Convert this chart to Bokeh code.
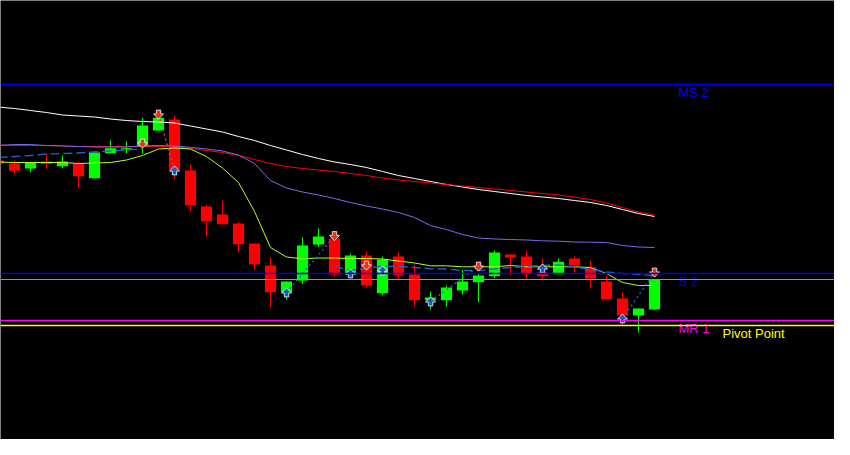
from bokeh.plotting import figure
from bokeh.models import Range1d, ColumnDataSource, Span
from bokeh.embed import file_html
from bokeh.resources import INLINE
from bokeh.core.properties import value

# ---------------- data ----------------
bars = list(range(-1, 41))
opens = [295, 292, 287, 294, 289.3, 291.7, 277.3, 302.3, 306, 309.3, 325, 336, 285, 249, 241, 232,
         212, 190, 163.3, 175, 211, 217, 181, 200, 162.3, 199, 181, 155.3, 155.3, 165, 173.3, 179.3,
         201, 199, 183, 181.3, 197, 188, 174, 157, 140, 146]
highs = [296, 295, 293, 302, 300, 294, 304, 315, 314, 337.7, 340, 340, 291, 251, 255, 233.3,
         212, 198, 174, 218, 227, 219, 202, 204, 199, 203, 191, 164, 170, 185.7, 182, 205,
         201, 205, 197, 197, 199, 195, 180, 163, 147, 176]
lows = [291, 281, 283, 287, 287.3, 267.7, 277, 302, 302.3, 301.7, 324.5, 276.7, 244.3, 219, 231, 203.3,
        185.3, 148.7, 155.7, 171.3, 208.3, 179, 178, 168, 160.3, 176, 149.3, 146, 149, 161, 153.3, 177.3,
        180, 176, 176.3, 181.3, 183, 167, 156, 130, 123, 146]
closes = [292, 285, 293, 291.5, 294, 279.3, 303, 307.3, 307.3, 330, 337.7, 286, 250.3, 234.3, 231.3, 211.3,
          191.3, 163.3, 174, 210, 219, 181, 200, 170, 196, 180, 155.3, 158, 168, 174, 180, 203,
          198, 182.3, 179.3, 193.7, 190, 177, 156, 140, 147, 176]

ma_white = [348.5, 347, 345, 343, 340.5, 339.5, 338.5, 336.5, 335, 334, 333.5, 332.5, 329.5, 326.5,
            323.5, 319, 315, 310, 305.5, 301, 297, 293.5, 291, 288, 284, 280, 277, 274, 271, 268.5,
            266, 264, 262, 260, 258.5, 257, 255, 253, 250, 246, 242, 239]
ma_red = [310.5, 310, 310, 310, 309.5, 309, 309, 309, 309, 309, 309, 308.5, 307, 305, 303, 300, 296,
          292, 289, 287, 285.5, 284, 282, 280, 277.5, 275.5, 274, 272.5, 271, 269.5, 268, 266.5, 265,
          263.5, 262, 260.5, 258.5, 256, 252.5, 248, 243.5, 240.5]
ma_slate = [310, 311, 311, 310, 309.5, 309, 308.5, 308.5, 308.5, 309.5, 310, 309.5, 308.2, 306.5,
            304.5, 300.5, 292, 275, 267.5, 263.5, 260.5, 257, 253, 249.5, 246.5, 243, 238, 230, 226,
            221, 217.5, 216.5, 216, 215.5, 214.7, 214.3, 213.5, 213.3, 213, 210, 208.5, 208]
ma_fast = [293.5, 293, 293, 293, 293, 292, 292.5, 293, 295.5, 300, 306.5, 307.5, 306.5, 299, 287.5,
           273, 244, 208, 198.5, 196.7, 197.5, 197.5, 197, 197, 196.5, 194.5, 192.5, 189.7, 189.7,
           188.7, 188.7, 188.7, 190, 188.7, 188.7, 188.7, 188.7, 188, 182, 173, 170, 170]
nan = float("nan")
dash_line = [298, 299, 300, 301.5, 302, 302.5, 303.5, 304.5, 305.5, 306.5,
             nan, nan, nan, nan, nan, nan, nan, nan, nan, nan, nan,
             189, 185, 187, 189.5, 189, 188, 186.7, 186.5, 185, 185, 186.5, 188, 189, 190, 190.5,
             188.5, 186, 183.5, 182, 181, 180]

down_idx = [8, 9, 20, 22, 29, 40]
down_lev = [312, 341, 219.5, 190, 189, 183]
up_idx = [10, 17, 21, 23, 26, 33, 38]
up_lev = [285, 163, 182, 185, 154, 187, 137]

zz_red = [([9, 10], [341, 285])]
zz_blue = [([17, 20], [163, 219.5]), ([26, 29], [154, 189]), ([38, 40], [137, 183])]

level_names = ["MS 2", "S 2", "MR 1", "Pivot Point"]
level_values = [371, 182, 135, 130]
level_colors = ["#0000ff", "#0000e0", "#ff00ff", "#ffff00"]
bid_price = closes[-1]

# ---------------- figure ----------------
W, H = 834, 439
x0, x1 = -0.875, 51.25
y0, y1 = 16, 455
p = figure(width=W, height=H, x_range=Range1d(x0, x1), y_range=Range1d(y0, y1),
           x_axis_type=None, y_axis_type=None, output_backend="svg", toolbar_location=None,
           background_fill_color="black", border_fill_color="black", min_border=0)
p.outline_line_color = None
p.grid.visible = False

xpp = (x1 - x0) / W   # data units per pixel
ypp = (y1 - y0) / H

# horizontal levels
for v, c in zip(level_values, level_colors):
    p.add_layout(Span(location=v, dimension="width", line_color=c, line_width=1.3))
p.add_layout(Span(location=bid_price, dimension="width", line_color="#8a96a3", line_width=1.2))

# candles
cols = ["#00ff00" if c >= o else "#ff0000" for o, c in zip(opens, closes)]
src = ColumnDataSource(dict(x=bars, o=opens, h=highs, l=lows, c=closes, col=cols,
                            top=[max(o, c) for o, c in zip(opens, closes)],
                            bot=[min(o, c) for o, c in zip(opens, closes)]))
p.segment("x", "h", "x", "l", source=src, line_color="col", line_width=1)
p.vbar(x="x", width=0.7, top="top", bottom="bot", source=src, fill_color="col", line_color=None)

# indicator lines
p.line(bars, ma_white, line_color="#ffffff", line_width=1)
p.line(bars, ma_red, line_color="#ff0000", line_width=1)
p.line(bars, ma_slate, line_color="#7b68ee", line_width=1)
p.line(bars, ma_fast, line_color="#adff2f", line_width=1)
p.line(bars, dash_line, line_color="#1e64c8", line_width=1.4, line_dash="9 4")

# zigzag dotted connectors
p.multi_line([s[0] for s in zz_red], [s[1] for s in zz_red], line_color="#e0482c",
             line_width=1.4, line_dash="2 3")
p.multi_line([s[0] for s in zz_blue], [s[1] for s in zz_blue], line_color="#1e64c8",
             line_width=1.4, line_dash="2 3")

# arrows (shape defined in pixel offsets, screen y pointing down)
down_shape = [(-2.2, -4.4), (2.2, -4.4), (2.2, -0.6), (5.0, -0.6), (0, 4.6), (-5.0, -0.6), (-2.2, -0.6)]
up_shape = [(dx, -dy) for dx, dy in down_shape]

def polys(idx, lev, shape):
    xs, ys = [], []
    for i, v in zip(idx, lev):
        xs.append([i + dx * xpp for dx, dy in shape])
        ys.append([v - dy * ypp for dx, dy in shape])
    return xs, ys

dx_, dy_ = polys(down_idx, down_lev, down_shape)
p.patches(dx_, dy_, fill_color="#e8341a", line_color="#ffffff", line_width=0.8, line_join="miter")
ux_, uy_ = polys(up_idx, up_lev, up_shape)
p.patches(ux_, uy_, fill_color="#1a5cb4", line_color="#ffffff", line_width=0.8, line_join="miter")

# level labels
last = bars[-1]
lab_off = [24, 24, 24, 68]
p.text(x=[last] * 4, y=level_values, text=level_names, x_offset=lab_off, y_offset=7.5,
       text_color=level_colors, text_font=value("Liberation Sans"), text_font_size="13px",
       text_align="left", text_baseline="alphabetic")

open("out.html", "w").write(file_html(p, INLINE))
